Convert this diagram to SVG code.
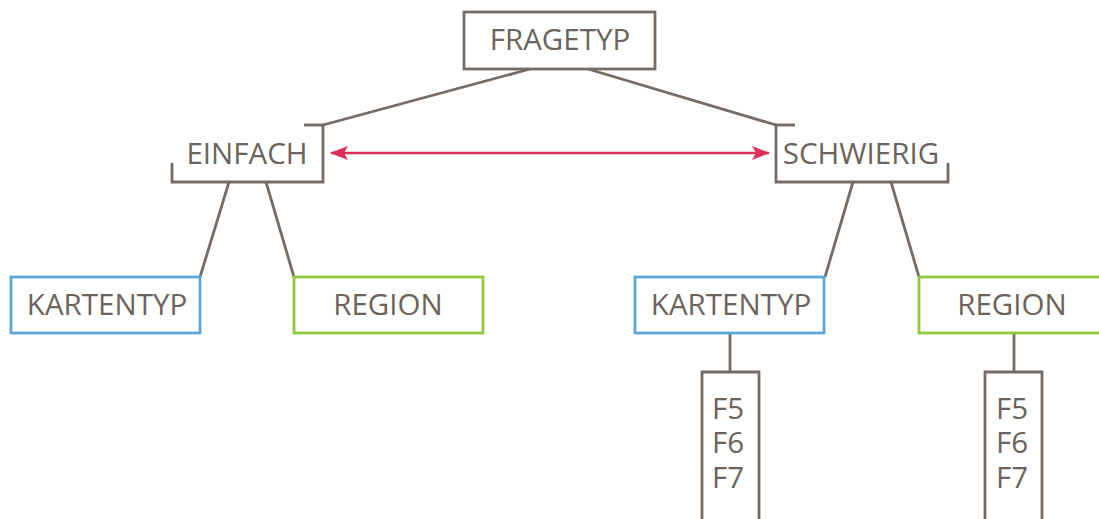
<svg xmlns="http://www.w3.org/2000/svg" width="1099" height="519" viewBox="0 0 1099 519">
  <style>
    .ln { fill: none; stroke: #746C66; stroke-width: 2.8; }
    .box { fill: #FFFFFF; stroke: #746C66; stroke-width: 2.8; }
    .blue { fill: #FFFFFF; stroke: #5BA7DA; stroke-width: 2.8; }
    .green { fill: #FFFFFF; stroke: #92C83E; stroke-width: 2.8; }
    .t { font-family: "Open Sans", "DejaVu Sans", sans-serif; font-size: 29.5px; fill: #6B635D; text-anchor: middle; }
    .arrow { stroke: #DA2F56; stroke-width: 2.4; fill: none; }
  </style>
  <defs>
    <marker id="ah" viewBox="0 0 18 14" refX="17" refY="7" markerWidth="18" markerHeight="14" markerUnits="userSpaceOnUse" orient="auto-start-reverse">
      <path d="M0,0 L18,7 L0,14 L4,7 Z" fill="#DA2F56"/>
    </marker>
  </defs>

  <!-- connectors -->
  <g id="connectors">
    <line class="ln" x1="530" y1="69" x2="323" y2="125"/>
    <line class="ln" x1="588" y1="69" x2="776" y2="125"/>
    <line class="ln" x1="229" y1="182" x2="200" y2="277"/>
    <line class="ln" x1="266" y1="182" x2="294" y2="277"/>
    <line class="ln" x1="853" y1="182" x2="825" y2="277"/>
    <line class="ln" x1="891" y1="182" x2="919" y2="277"/>
    <line class="ln" x1="730" y1="333" x2="730" y2="372"/>
    <line class="ln" x1="1014" y1="333" x2="1014" y2="372"/>
    <line class="arrow" x1="331" y1="153" x2="769" y2="153" marker-start="url(#ah)" marker-end="url(#ah)"/>
  </g>

  <g id="fragetyp">
    <rect class="box" x="464" y="12" width="191" height="57"/>
    <text class="t" x="560" y="50">FRAGETYP</text>
  </g>

  <g id="einfach">
    <path class="ln" d="M304,125 H323 V182 H172 V163"/>
    <text class="t" x="247" y="164">EINFACH</text>
  </g>

  <g id="schwierig">
    <path class="ln" d="M795,125 H776 V182 H948 V163"/>
    <text class="t" x="861" y="164">SCHWIERIG</text>
  </g>

  <g id="kartentyp-einfach">
    <rect class="blue" x="11" y="277" width="189" height="56"/>
    <text class="t" x="107" y="315">KARTENTYP</text>
  </g>

  <g id="region-einfach">
    <rect class="green" x="294" y="277" width="189" height="56"/>
    <text class="t" x="388" y="315">REGION</text>
  </g>

  <g id="kartentyp-schwierig">
    <rect class="blue" x="635" y="277" width="189" height="56"/>
    <text class="t" x="731" y="315">KARTENTYP</text>
  </g>

  <g id="region-schwierig">
    <rect class="green" x="919" y="277" width="189" height="56"/>
    <text class="t" x="1012" y="315">REGION</text>
  </g>

  <g id="fragen-kartentyp">
    <path class="ln" d="M702,525 V372 H759 V525"/>
    <text class="t" x="728" y="419">F5</text>
    <text class="t" x="728" y="453">F6</text>
    <text class="t" x="728" y="488">F7</text>
  </g>

  <g id="fragen-region">
    <path class="ln" d="M985,525 V372 H1042 V525"/>
    <text class="t" x="1012" y="419">F5</text>
    <text class="t" x="1012" y="453">F6</text>
    <text class="t" x="1012" y="488">F7</text>
  </g>
</svg>
